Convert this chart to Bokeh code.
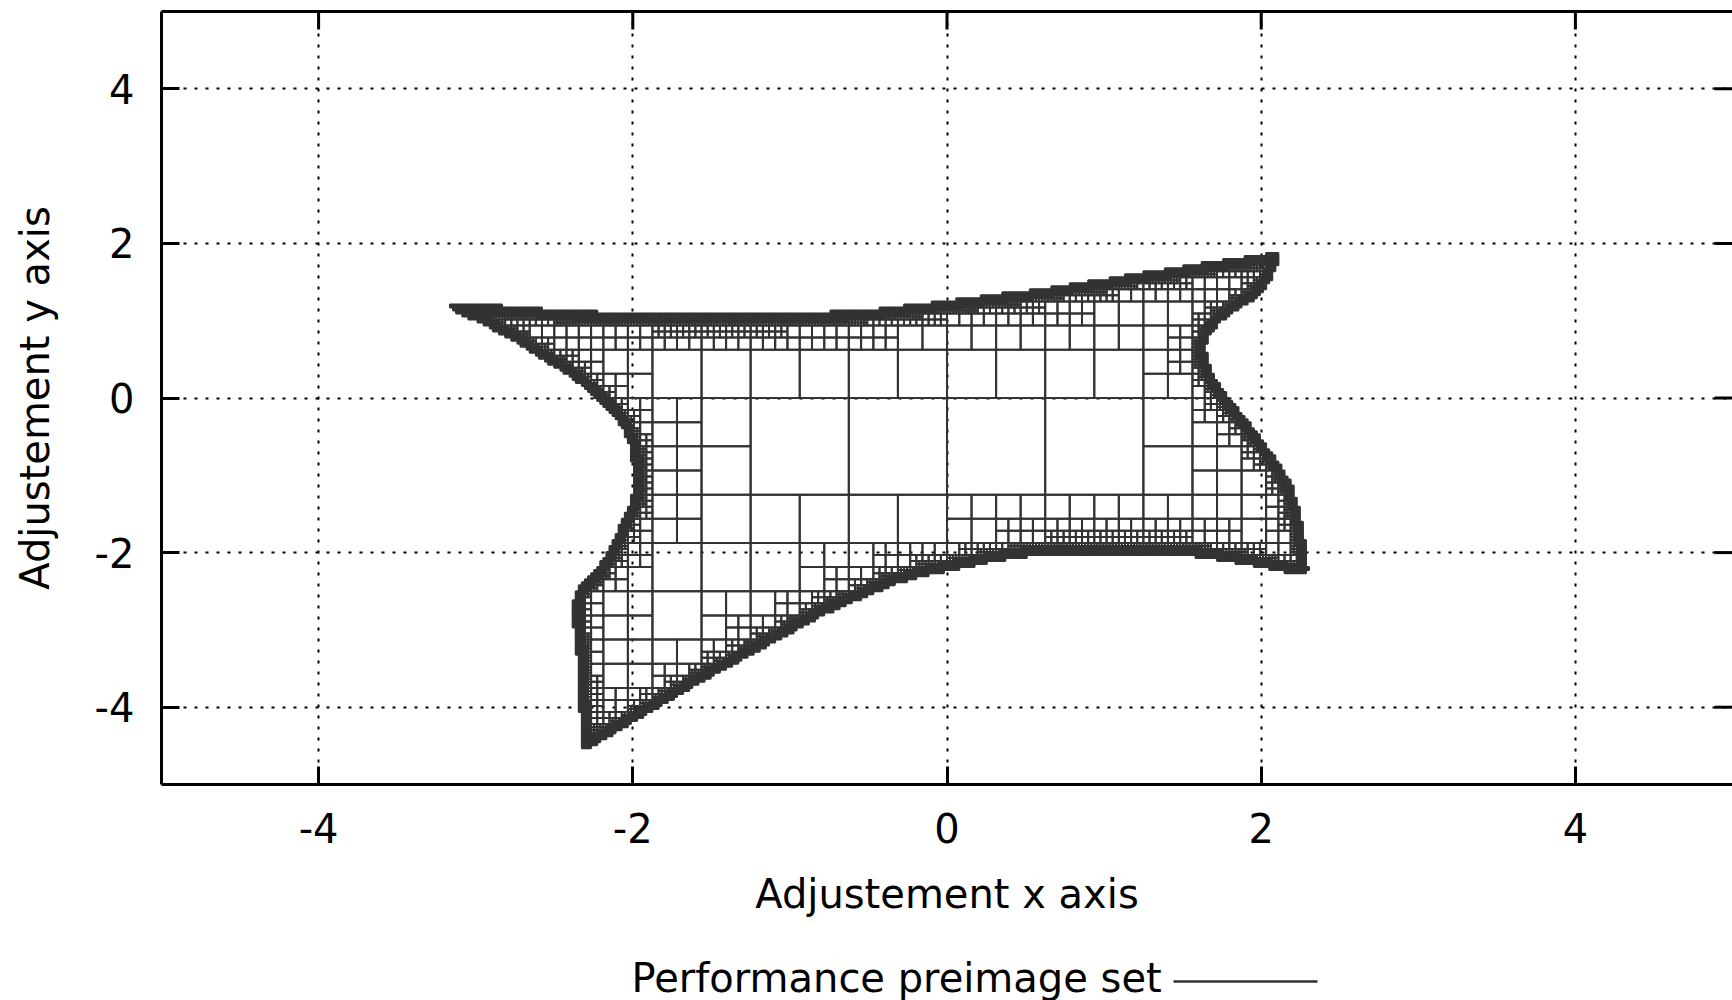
import numpy as np
from bokeh.plotting import figure
from bokeh.models import Range1d, LinearAxis, FixedTicker, ColumnDataSource
from bokeh.layouts import column
from bokeh.embed import file_html
from bokeh.resources import INLINE
from bokeh.core.properties import value

# ---- data ----
# boundary of the performance preimage set (clockwise from the left tip)
boundary_x = [-3.15, -2.75, -2.41, -2.0, -1.5, -0.9, -0.6, -0.38, -0.18, 0.0, 0.16, 0.28, 0.47, 0.62,
              0.83, 1.0, 1.22, 1.43, 1.64, 1.85, 2.05, 2.10, 2.09, 2.04, 1.96, 1.85, 1.75, 1.66, 1.63,
              1.64, 1.69, 1.77, 1.86, 1.95, 2.04, 2.12, 2.18, 2.22, 2.25, 2.27, 2.28, 2.27, 2.19, 2.02,
              1.77, 1.49, 0.96, 0.54, 0.32, 0.11, -0.10, -0.33, -0.78, -1.20, -1.63, -1.97, -2.28,
              -2.30, -2.32, -2.33, -2.34, -2.36, -2.36, -2.33, -2.28, -2.21, -2.14, -2.10, -2.06,
              -2.01, -1.98, -1.98, -2.0, -2.05, -2.13, -2.21, -2.30, -2.42, -2.59, -2.74, -2.93, -3.10]
boundary_y = [1.19, 1.15, 1.09, 1.07, 1.06, 1.07, 1.09, 1.13, 1.18, 1.22, 1.26, 1.30, 1.34, 1.38,
              1.45, 1.50, 1.58, 1.64, 1.71, 1.77, 1.83, 1.86, 1.76, 1.52, 1.32, 1.19, 1.05, 0.86, 0.68,
              0.48, 0.23, 0.0, -0.22, -0.45, -0.70, -0.93, -1.15, -1.40, -1.70, -2.00, -2.22, -2.25,
              -2.23, -2.16, -2.07, -1.99, -1.99, -2.01, -2.07, -2.16, -2.24, -2.37, -2.76, -3.23,
              -3.71, -4.12, -4.49, -4.50, -3.99, -3.60, -3.21, -2.91, -2.62, -2.48, -2.37, -2.22,
              -2.00, -1.83, -1.64, -1.44, -1.23, -0.88, -0.62, -0.36, -0.15, 0.0, 0.17, 0.35, 0.56,
              0.76, 0.97, 1.13]
initial_box = [-5.0, 5.0, -10.0, 10.0]   # xmin, xmax, ymin, ymax of the paving search box
max_depth = 9
x_limits = [-5, 5]
y_limits = [-5, 5]
x_ticks = [-4, -2, 0, 2, 4]
y_ticks = [-4, -2, 0, 2, 4]
x_label = "Adjustement x axis"
y_label = "Adjustement y axis"
legend_label = "Performance preimage set"


# ---- SIVIA-style paving of the set delimited by the boundary ----
def pave(bxs, bys, box0, depth_max, pessimism=1.4, slack=0.012, shrink=0.015):
    px = np.asarray(bxs, float)
    py = np.asarray(bys, float) * 0.5          # scale y so boxes are square
    ax, ay = px[None, :], py[None, :]
    bx, by = np.roll(px, -1)[None, :], np.roll(py, -1)[None, :]
    boxes = np.array([box0], float)
    inner, border = [], []
    for depth in range(depth_max + 1):
        cx = (boxes[:, 0] + boxes[:, 1]) / 2
        cy = (boxes[:, 2] + boxes[:, 3]) / 4
        hx = (boxes[:, 1] - boxes[:, 0]) / 2
        hy = (boxes[:, 3] - boxes[:, 2]) / 4
        qx, qy = cx[:, None], cy[:, None]
        dx, dy = bx - ax, by - ay
        L2 = dx * dx + dy * dy
        t = np.clip(((qx - ax) * dx + (qy - ay) * dy) / np.where(L2 == 0, 1, L2), 0, 1)
        d = np.sqrt((ax + t * dx - qx) ** 2 + (ay + t * dy - qy) ** 2).min(axis=1)
        crosses = ((ay > qy) != (by > qy))
        xint = ax + (qy - ay) * dx / np.where(dy == 0, 1, dy)
        inside = (crosses & (qx < xint)).sum(axis=1) % 2 == 1
        s = np.where(inside, d, -d) - shrink
        r = np.sqrt(hx * hx + hy * hy) * pessimism + slack
        determined = np.abs(s) > r
        inner.append(boxes[determined & (s > 0)])
        und = boxes[~determined]
        if depth == depth_max:
            border.append(und)
            break
        xm = (und[:, 0] + und[:, 1]) / 2
        ym = (und[:, 2] + und[:, 3]) / 2
        kids = [np.stack([und[:, 0], xm, und[:, 2], ym], 1),
                np.stack([xm, und[:, 1], und[:, 2], ym], 1),
                np.stack([und[:, 0], xm, ym, und[:, 3]], 1),
                np.stack([xm, und[:, 1], ym, und[:, 3]], 1)]
        boxes = np.concatenate(kids)
    return np.concatenate(inner), np.concatenate(border)


inner_boxes, border_boxes = pave(boundary_x, boundary_y, initial_box, max_depth)

inner_src = ColumnDataSource(dict(left=inner_boxes[:, 0], right=inner_boxes[:, 1],
                                  bottom=inner_boxes[:, 2], top=inner_boxes[:, 3]))
border_src = ColumnDataSource(dict(left=border_boxes[:, 0], right=border_boxes[:, 1],
                                   bottom=border_boxes[:, 2], top=border_boxes[:, 3]))

FONT = "DejaVu Sans"
BOX_COLOR = "#333333"
W = 1732

p = figure(width=W, height=940, x_range=Range1d(*x_limits), y_range=Range1d(*y_limits),
           output_backend="svg", toolbar_location=None,
           min_border_left=161, min_border_top=11, min_border_right=0, min_border_bottom=156)
p.outline_line_color = None
p.background_fill_color = "white"
p.border_fill_color = "white"

# grid
p.xgrid.ticker = FixedTicker(ticks=x_ticks)
p.ygrid.ticker = FixedTicker(ticks=y_ticks)
for g in (p.xgrid, p.ygrid):
    g.grid_line_color = "black"
    g.grid_line_width = 2
    g.grid_line_dash = "3 8"

p.quad(left="left", right="right", bottom="bottom", top="top", source=inner_src,
       fill_color=None, line_color=BOX_COLOR, line_width=2)
p.quad(left="left", right="right", bottom="bottom", top="top", source=border_src,
       fill_color=BOX_COLOR, line_color=BOX_COLOR, line_width=2)

# mirrored inward ticks on the top and right sides
p.ray(x=x_ticks, y=[y_limits[1]] * len(x_ticks), length=18, length_units="screen",
      angle=-np.pi / 2, line_color="black", line_width=3)
p.ray(x=[x_limits[1]] * len(y_ticks), y=y_ticks, length=18, length_units="screen",
      angle=np.pi, line_color="black", line_width=3)


def style_axis(ax):
    ax.axis_line_color = "black"
    ax.axis_line_width = 3
    ax.major_tick_line_color = "black"
    ax.major_tick_line_width = 3
    ax.major_tick_in = 18
    ax.major_tick_out = 0
    ax.minor_tick_line_color = None
    ax.major_label_text_font = FONT
    ax.major_label_text_font_size = "40px"
    ax.major_label_text_color = "black"
    ax.axis_label_text_font = FONT
    ax.axis_label_text_font_size = "40px"
    ax.axis_label_text_font_style = "normal"
    ax.axis_label_text_color = "black"


xa = p.xaxis[0]
ya = p.yaxis[0]
xa.ticker = FixedTicker(ticks=x_ticks)
ya.ticker = FixedTicker(ticks=y_ticks)
xa.major_label_overrides = {t: str(t) for t in x_ticks}
ya.major_label_overrides = {t: str(t) for t in y_ticks}
style_axis(xa)
style_axis(ya)
xa.axis_label = x_label
ya.axis_label = y_label
xa.major_label_standoff = 28
xa.axis_label_standoff = 25
ya.major_label_standoff = 27
ya.axis_label_standoff = 34

# top border line
top_axis = LinearAxis(ticker=FixedTicker(ticks=[]), axis_line_color="black", axis_line_width=3,
                      major_tick_line_color=None, minor_tick_line_color=None,
                      major_label_standoff=0, axis_label_standoff=0)
p.add_layout(top_axis, "above")

# legend row (label followed by line sample, gnuplot style); coordinates are canvas pixels
LEG_H = 60
lg = figure(width=W, height=LEG_H, x_range=Range1d(161, W), y_range=Range1d(0, LEG_H),
            output_backend="svg", toolbar_location=None, x_axis_type=None, y_axis_type=None,
            min_border_left=161, min_border_right=0, min_border_top=0, min_border_bottom=0)
lg.outline_line_color = None
lg.xgrid.visible = False
lg.ygrid.visible = False
lg.background_fill_color = "white"
lg.border_fill_color = "white"
lg.text(x=[631], y=[22.5], text=[legend_label], text_font=value(FONT), text_font_size="40px",
        text_baseline="middle", text_align="left", text_color="black")
lg.line(x=[1173, 1317], y=[19, 19], line_color=BOX_COLOR, line_width=2.5)

layout = column(p, lg)
open("out.html", "w").write(file_html(layout, INLINE))
